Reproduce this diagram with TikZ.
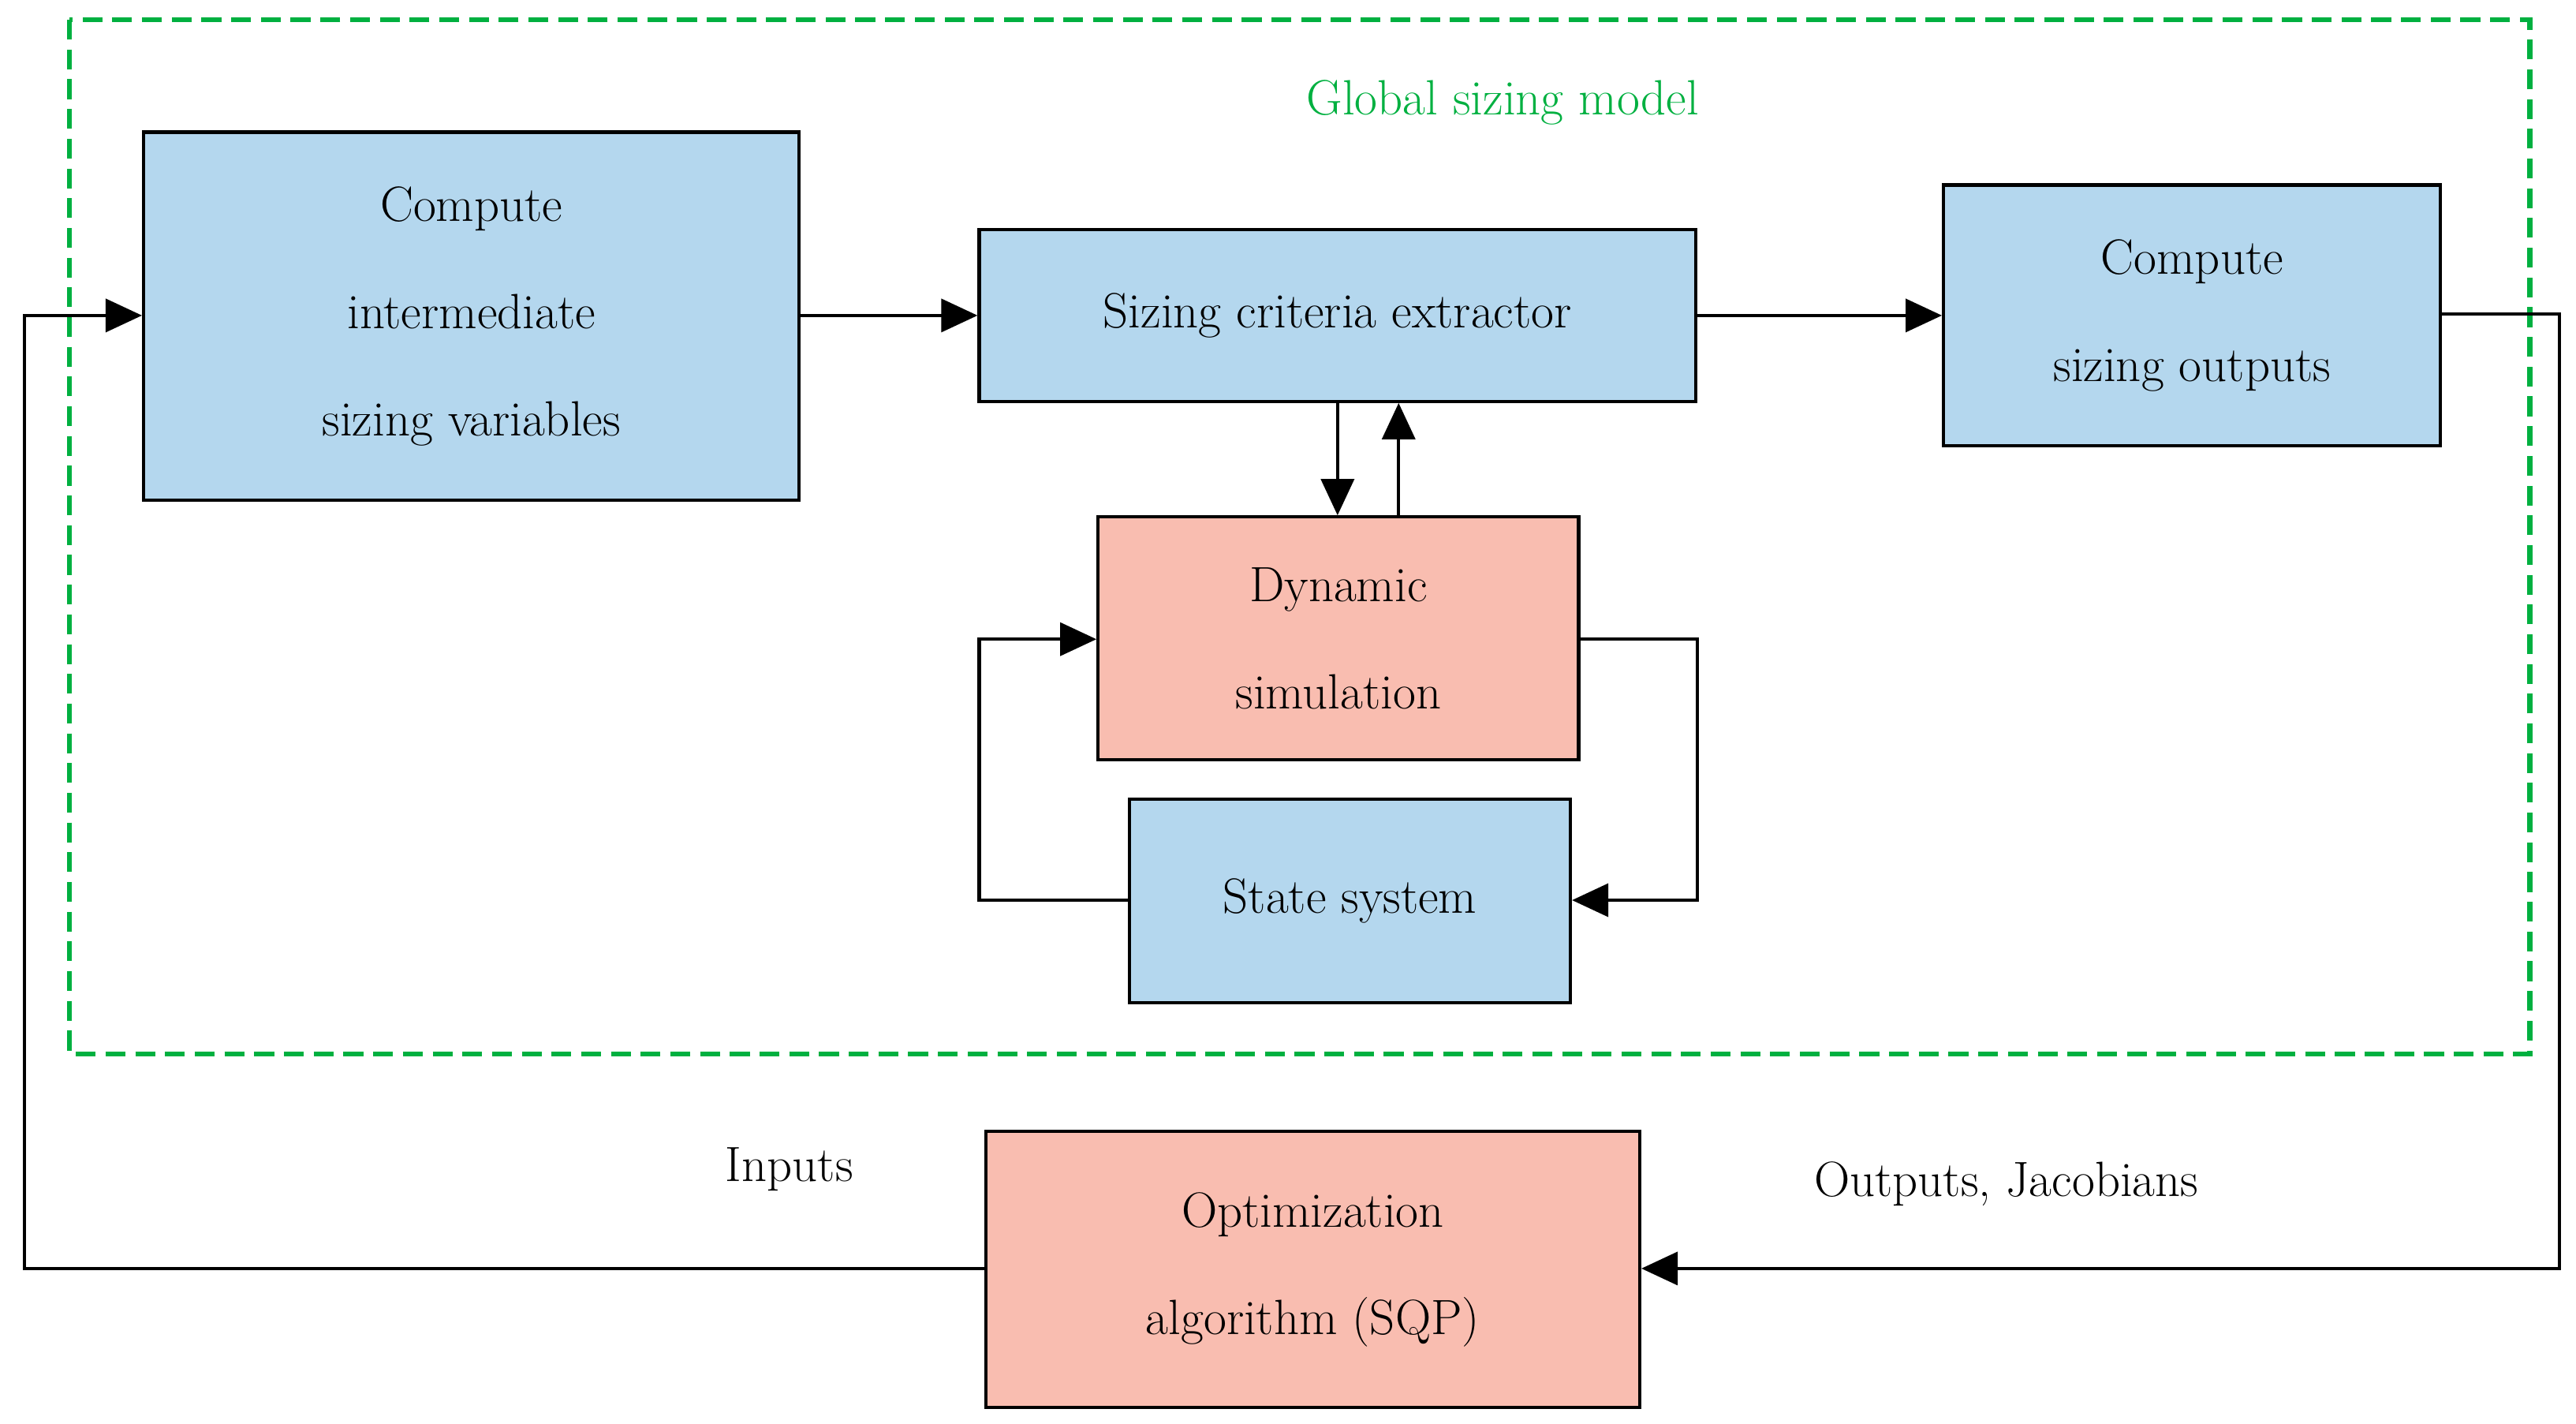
\documentclass[tikz,border=0pt]{standalone}
\usepackage{mathpazo}
\usetikzlibrary{arrows.meta}
\definecolor{bl}{HTML}{B4D7EE}
\definecolor{rd}{HTML}{F9BDB0}
\definecolor{gr}{HTML}{00B040}
\begin{document}
\begin{tikzpicture}[x=1pt,y=-1pt,
 box/.style={draw=black,line width=2pt,fill=#1,inner sep=0pt,align=center,font=\fontsize{30}{65}\selectfont},
 ar/.style={line width=2pt,-{Triangle[length=22pt,width=20pt]}},
 ln/.style={line width=2pt},
 lbl/.style={font=\fontsize{30}{36}\selectfont}]
\useasboundingbox (0,0) rectangle (1560,862);
\draw[gr,line width=3pt,dash pattern=on 12pt off 6pt] (42,12) rectangle (1532,638);
\node[lbl,text=gr] (t) at (910,62) {Global sizing model};
\node[box=bl,minimum width=397pt,minimum height=223pt] (A) at (285.5,191.5) {Compute\\intermediate\\sizing variables};
\node[box=bl,minimum width=434pt,minimum height=104pt] (B) at (810,191) {Sizing criteria extractor};
\node[box=bl,minimum width=301pt,minimum height=158pt] (C) at (1327.5,191) {Compute\\sizing outputs};
\node[box=rd,minimum width=291pt,minimum height=147pt] (D) at (810.5,386.5) {Dynamic\\simulation};
\node[box=bl,minimum width=267pt,minimum height=123pt] (E) at (817.5,545.5) {State system};
\node[box=rd,minimum width=396pt,minimum height=167pt] (F) at (795,768.5) {Optimization\\algorithm (SQP)};
\node[lbl] (in) at (478,708) {Inputs};
\node[lbl] (out) at (1215,717) {Outputs, Jacobians};
\draw[ar] (A.east|-0,191) -- (B.west|-0,191);
\draw[ar] (B.east|-0,191) -- (C.west|-0,191);
\draw[ar] (B.south-|810,0) -- (D.north-|810,0);
\draw[ar] (D.north-|847,0) -- (B.south-|847,0);
\draw[ar] (D.east|-0,387) -- (1028,387) -- (1028,545) -- (E.east|-0,545);
\draw[ar] (E.west|-0,545) -- (593,545) -- (593,387) -- (D.west|-0,387);
\draw[ar] (C.east|-0,190) -- (1550,190) -- (1550,768) -- (F.east|-0,768);
\draw[ar] (F.west|-0,768) -- (15,768) -- (15,191) -- (A.west|-0,191);
\end{tikzpicture}
\end{document}
